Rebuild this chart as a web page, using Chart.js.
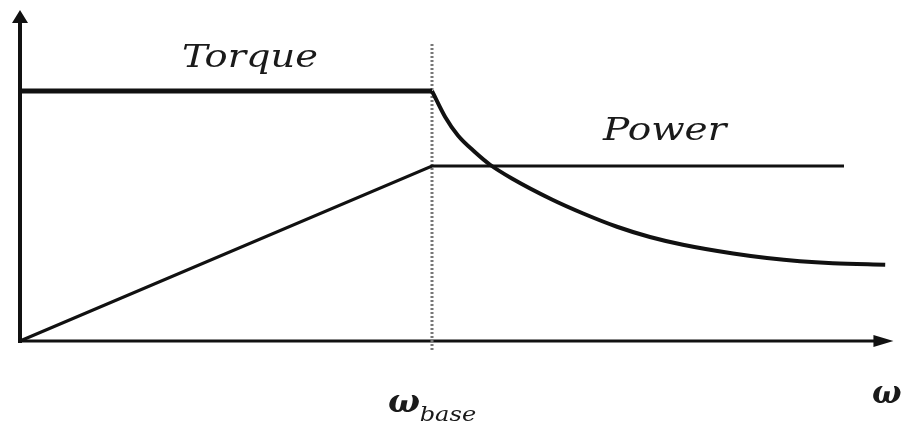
<!DOCTYPE html>
<html lang="en">
<head>
<meta charset="UTF-8">
<title>Torque and Power vs Speed</title>
<script src="https://cdn.jsdelivr.net/npm/chart.js"></script>
<style>
  html, body { margin: 0; padding: 0; background: #fff; }
</style>
</head>
<body>
<canvas id="tpChart" width="911" height="425"></canvas>
<script>
// speed in multiples of base speed, torque/power normalised to rated torque
const torqueFlatSpeed = [0, 1];
const torqueFlat = [1, 1];
const torqueCurveSpeed = [1.0, 1.032, 1.063, 1.104, 1.141, 1.194, 1.291, 1.367, 1.449, 1.529, 1.609, 1.731, 1.813, 1.893, 1.973, 2.1];
const torqueCurve = [1.0, 0.896, 0.822, 0.756, 0.705, 0.650, 0.566, 0.510, 0.457, 0.416, 0.385, 0.350, 0.332, 0.319, 0.311, 0.305];
const powerSpeed = [0, 1, 2.0];
const power = [0, 0.70, 0.70];
const baseSpeed = 1;
const baseLineRange = [-0.036, 1.192];
const axisEnd = { x: 2.12, y: 1.324 };
const labelText = { torque: 'Torque', power: 'Power', omega: 'ω', base: 'base' };

const SERIF = '"DejaVu Serif", serif';
const pts = (xs, ys) => xs.map((v, i) => ({ x: v, y: ys[i] }));

function stretched(ctx, text, px, py, sx) {
  ctx.save();
  ctx.translate(px, py);
  ctx.scale(sx, 1);
  ctx.fillText(text, 0, 0);
  ctx.restore();
}

const decor = {
  id: 'decor',
  beforeDatasetsDraw(chart) {
    const { ctx, scales: { x, y } } = chart;
    const x0 = x.getPixelForValue(0), y0 = y.getPixelForValue(0);
    const xe = x.getPixelForValue(axisEnd.x), ye = y.getPixelForValue(axisEnd.y);
    ctx.save();
    ctx.strokeStyle = '#111';
    ctx.fillStyle = '#111';
    ctx.lineWidth = 4;
    ctx.beginPath();
    ctx.moveTo(x0, y0 + 2);
    ctx.lineTo(x0, ye + 10);
    ctx.stroke();
    ctx.lineWidth = 3;
    ctx.beginPath();
    ctx.moveTo(x0 - 2, y0);
    ctx.lineTo(xe - 12, y0);
    ctx.stroke();
    // arrow heads
    ctx.beginPath();
    ctx.moveTo(x0, ye);
    ctx.lineTo(x0 - 8, ye + 13);
    ctx.lineTo(x0 + 8, ye + 13);
    ctx.closePath();
    ctx.moveTo(xe, y0);
    ctx.lineTo(xe - 20, y0 - 6);
    ctx.lineTo(xe - 20, y0 + 6);
    ctx.closePath();
    ctx.fill();
    ctx.restore();
  },
  afterDraw(chart) {
    const { ctx, scales: { x, y } } = chart;
    ctx.save();
    ctx.fillStyle = '#1a1a1a';
    ctx.textBaseline = 'alphabetic';
    ctx.font = 'italic 32px ' + SERIF;
    stretched(ctx, labelText.torque, x.getPixelForValue(0.393), y.getPixelForValue(1.096), 1.2);
    stretched(ctx, labelText.power, x.getPixelForValue(1.415), y.getPixelForValue(0.804), 1.22);
    ctx.font = 'italic bold 32px ' + SERIF;
    stretched(ctx, labelText.omega, x.getPixelForValue(0.893), y.getPixelForValue(-0.284), 1.05);
    ctx.font = 'italic 21px ' + SERIF;
    stretched(ctx, labelText.base, x.getPixelForValue(0.97), y.getPixelForValue(-0.32), 1.15);
    ctx.font = 'italic bold 31px ' + SERIF;
    stretched(ctx, labelText.omega, x.getPixelForValue(2.068), y.getPixelForValue(-0.248), 1.0);
    ctx.restore();
  }
};

function build() {
  const ctx = document.getElementById('tpChart').getContext('2d');
  new Chart(ctx, {
    type: 'line',
    data: {
      datasets: [
        {
          label: 'Torque',
          data: pts(torqueFlatSpeed, torqueFlat),
          borderColor: '#111',
          borderWidth: 5,
          pointRadius: 0,
          tension: 0,
          order: 1
        },
        {
          label: 'Torque (field weakening)',
          data: pts(torqueCurveSpeed, torqueCurve),
          borderColor: '#111',
          borderWidth: 4,
          pointRadius: 0,
          cubicInterpolationMode: 'monotone',
          order: 1
        },
        {
          label: 'Power',
          data: pts(powerSpeed, power),
          borderColor: '#111',
          borderWidth: 3,
          pointRadius: 0,
          tension: 0,
          order: 2
        },
        {
          label: 'Base speed',
          data: pts([baseSpeed, baseSpeed], baseLineRange),
          borderColor: '#777',
          borderWidth: 3,
          borderDash: [2, 2],
          pointRadius: 0,
          order: 3
        }
      ]
    },
    options: {
      responsive: false,
      animation: false,
      layout: { padding: 0 },
      plugins: {
        legend: { display: false },
        tooltip: { enabled: false }
      },
      scales: {
        x: { type: 'linear', min: -20 / 412, max: 891 / 412, display: false },
        y: { type: 'linear', min: -84 / 250, max: 341 / 250, display: false }
      }
    },
    plugins: [decor]
  });
}

Promise.all([
  document.fonts.load('italic 32px "DejaVu Serif"'),
  document.fonts.load('italic bold 31px "DejaVu Serif"')
]).then(build, build);
</script>
</body>
</html>
